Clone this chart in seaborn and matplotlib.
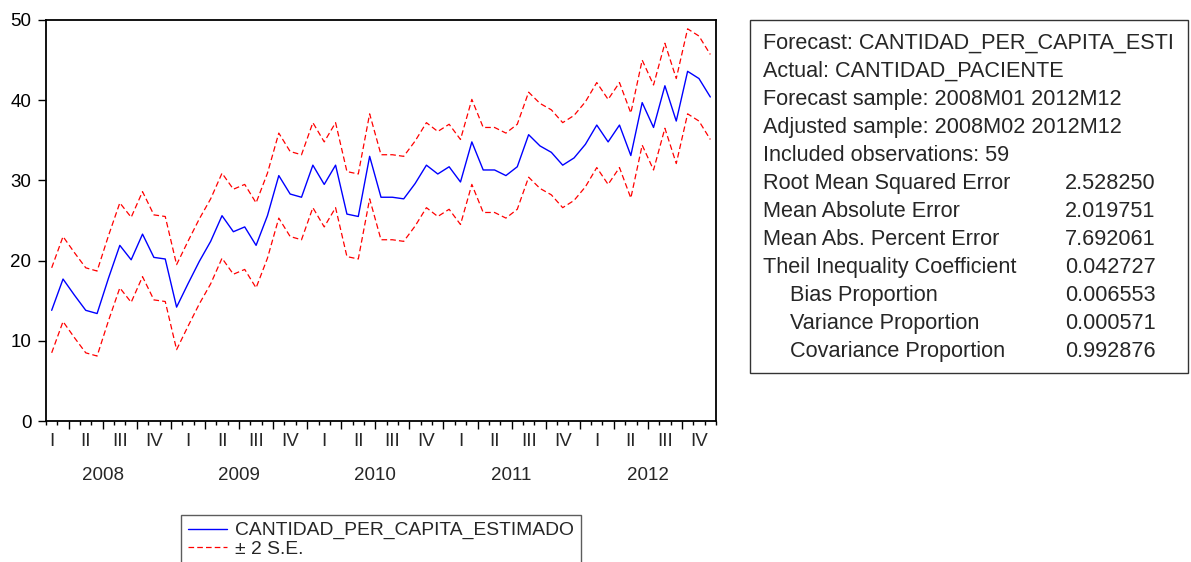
import numpy as np
import pandas as pd
import matplotlib
matplotlib.use("Agg")
import matplotlib.pyplot as plt
from matplotlib.lines import Line2D
from matplotlib.patches import Rectangle
import seaborn as sns

# Static forecast, observations 2008M02 .. 2012M12
forecast = [13.8, 17.7, 15.7, 13.8, 13.4, 17.8, 21.9, 20.1, 23.3, 20.4,
            20.2, 14.2, 17.1, 19.9, 22.4, 25.6, 23.6, 24.2, 21.9, 25.6,
            30.6, 28.3, 27.9, 31.9, 29.5, 31.9, 25.8, 25.5, 33.0, 27.9,
            27.9, 27.7, 29.6, 31.9, 30.8, 31.7, 29.8, 34.8, 31.3, 31.3,
            30.6, 31.7, 35.7, 34.3, 33.5, 31.9, 32.8, 34.5, 36.9, 34.8,
            36.9, 33.1, 39.7, 36.6, 41.8, 37.4, 43.6, 42.7, 40.4]
upper = [19.1, 23.0, 21.0, 19.1, 18.7, 23.1, 27.2, 25.4, 28.6, 25.7,
         25.5, 19.5, 22.4, 25.2, 27.7, 30.9, 28.9, 29.5, 27.2, 30.9,
         35.9, 33.6, 33.2, 37.2, 34.8, 37.2, 31.1, 30.8, 38.3, 33.2,
         33.2, 33.0, 34.9, 37.2, 36.1, 37.0, 35.1, 40.1, 36.6, 36.6,
         35.9, 37.0, 41.0, 39.6, 38.8, 37.2, 38.1, 39.8, 42.2, 40.1,
         42.2, 38.4, 45.0, 41.9, 47.1, 42.7, 48.9, 48.0, 45.7]
lower = [8.5, 12.4, 10.4, 8.5, 8.1, 12.5, 16.6, 14.8, 18.0, 15.1,
         14.9, 8.9, 11.8, 14.6, 17.1, 20.3, 18.3, 18.9, 16.6, 20.3,
         25.3, 23.0, 22.6, 26.6, 24.2, 26.6, 20.5, 20.2, 27.7, 22.6,
         22.6, 22.4, 24.3, 26.6, 25.5, 26.4, 24.5, 29.5, 26.0, 26.0,
         25.3, 26.4, 30.4, 29.0, 28.2, 26.6, 27.5, 29.2, 31.6, 29.5,
         31.6, 27.8, 34.4, 31.3, 36.5, 32.1, 38.3, 37.4, 35.1]

years = ["2008", "2009", "2010", "2011", "2012"]
quarters = ["I", "II", "III", "IV"]

stat_lines = ["Forecast: CANTIDAD_PER_CAPITA_ESTI",
              "Actual: CANTIDAD_PACIENTE",
              "Forecast sample: 2008M01 2012M12",
              "Adjusted sample: 2008M02 2012M12",
              "Included observations: 59"]
stat_names = ["Root Mean Squared Error", "Mean Absolute Error",
              "Mean Abs. Percent Error", "Theil Inequality Coefficient",
              "Bias Proportion", "Variance Proportion",
              "Covariance Proportion"]
stat_values = ["2.528250", "2.019751", "7.692061", "0.042727",
               "0.006553", "0.000571", "0.992876"]
stat_indent = [False, False, False, False, True, True, True]

legend_labels = ["CANTIDAD_PER_CAPITA_ESTIMADO", "\u00b1 2 S.E."]

sns.set_style("ticks")
plt.rcParams["font.family"] = ["Liberation Sans", "DejaVu Sans"]

W, H = 1191, 562
fig = plt.figure(figsize=(W / 100, H / 100), dpi=100)


def fx(px):
    return px / W


def fy(py):
    return 1 - py / H


ax = fig.add_axes([fx(46), fy(421), fx(716) - fx(46), fy(20) - fy(421)])

df = pd.DataFrame({"obs": np.arange(len(forecast)), "forecast": forecast,
                   "upper": upper, "lower": lower})
dash = (0, (4.5, 2.5))
sns.lineplot(data=df, x="obs", y="upper", color="#FF0000", lw=0.9,
             linestyle=dash, ax=ax, legend=False)
sns.lineplot(data=df, x="obs", y="lower", color="#FF0000", lw=0.9,
             linestyle=dash, ax=ax, legend=False)
sns.lineplot(data=df, x="obs", y="forecast", color="#0000FF", lw=1.0,
             ax=ax, legend=False)

n = len(forecast)
ax.set_xlim(-0.5, n - 0.5)
ax.set_ylim(0, 50)
ax.set_xlabel("")
ax.set_ylabel("")
ax.set_yticks(range(0, 51, 10))
ax.tick_params(axis="y", labelsize=13.5, length=6, width=1, pad=4.5,
               color="black", labelcolor="black")

# month boundaries; quarter starts get the longer ticks
boundaries = np.arange(-0.5, n, 1.0)
major = [b for b in boundaries if (b - 1.5) % 3 == 0 and 0 < b < n - 1]
minor = [b for b in boundaries if b not in major]
ax.set_xticks(major)
ax.set_xticks(minor, minor=True)
ax.set_xticklabels([])
ax.tick_params(axis="x", which="major", length=5.5, width=1, color="black")
ax.tick_params(axis="x", which="minor", length=3, width=1, color="black")

for s in ax.spines.values():
    s.set_color("black")
    s.set_linewidth(1.3)
    s.set_visible(True)

xt = ax.get_xaxis_transform()
for q in range(len(years) * 4):
    ax.text(3 * q, -0.052, quarters[q % 4], transform=xt, ha="center",
            va="center", fontsize=13.5)
for i, yr in enumerate(years):
    ax.text(12 * i + 4.5, -0.137, yr, transform=xt, ha="center",
            va="center", fontsize=13.5)

# statistics box
fig.add_artist(Rectangle((fx(750), fy(373)), fx(1188) - fx(750),
                         fy(20) - fy(373), transform=fig.transFigure,
                         fill=False, edgecolor="#333333", lw=1.0))
base0, step = 48.5, 28.03
fs = 15.6
for i, t in enumerate(stat_lines):
    fig.text(fx(763), fy(base0 + step * i), t, fontsize=fs, va="baseline",
             ha="left")
for j, (name, val, ind) in enumerate(zip(stat_names, stat_values, stat_indent)):
    yb = fy(base0 + step * (j + len(stat_lines)))
    fig.text(fx(790 if ind else 763), yb, name, fontsize=fs, va="baseline",
             ha="left")
    fig.text(fx(1065), yb, val, fontsize=fs, va="baseline", ha="left")

# legend
handles = [Line2D([], [], color="#0000FF", lw=1.0),
           Line2D([], [], color="#FF0000", lw=0.9, linestyle=dash)]
leg = fig.legend(handles, legend_labels, loc="upper left",
                 bbox_to_anchor=(fx(181), fy(515)), fontsize=13.9,
                 frameon=True, fancybox=False, handlelength=2.05,
                 handletextpad=0.42, labelspacing=0.05, borderpad=0.35,
                 borderaxespad=0)
leg.get_frame().set_edgecolor("#333333")
leg.get_frame().set_linewidth(1.0)

fig.savefig("out.png", dpi=100)
